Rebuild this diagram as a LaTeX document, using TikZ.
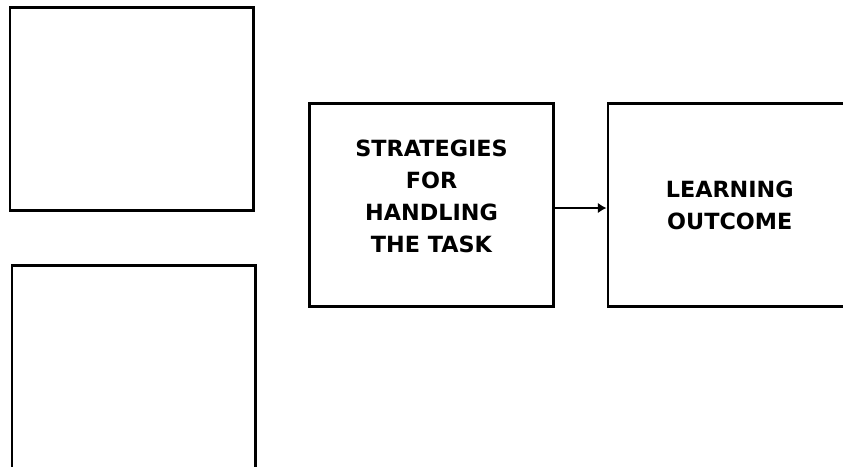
\documentclass[tikz,border=0pt]{standalone}
\usepackage{fontspec}
\setmainfont{DejaVu Sans}
\usetikzlibrary{arrows.meta}
\tikzset{
  fbbox/.style={draw=black, line width=1.6pt, rectangle, minimum width=4.87cm, minimum height=4.06cm, inner sep=0pt, align=center, font=\bfseries\fontsize{12.7}{18.2}\selectfont},
  fbarrow/.style={line width=1.2pt, -{Latex[length=5pt,width=6pt]}},
}
\begin{document}
\begin{tikzpicture}[x=0.02cm, y=-0.02cm]
\useasboundingbox (0,0) rectangle (843,467);
\clip (0,0) rectangle (843,467);
\node[fbbox] (inputa) at (131.750,109.000) {};
\node[fbbox, minimum height=4.2cm] (inputb) at (133.750,370.500) {};
\node[fbbox] (strategy) at (431.500,205.000) {STRATEGIES\\FOR\\HANDLING\\THE TASK\\[-0.3cm]};
\node[fbbox] (outcome) at (729.750,205.000) {LEARNING\\OUTCOME};
\draw[fbarrow] ([yshift=-0.06cm]strategy.east) -- ([yshift=-0.06cm]outcome.west);
\end{tikzpicture}
\end{document}
